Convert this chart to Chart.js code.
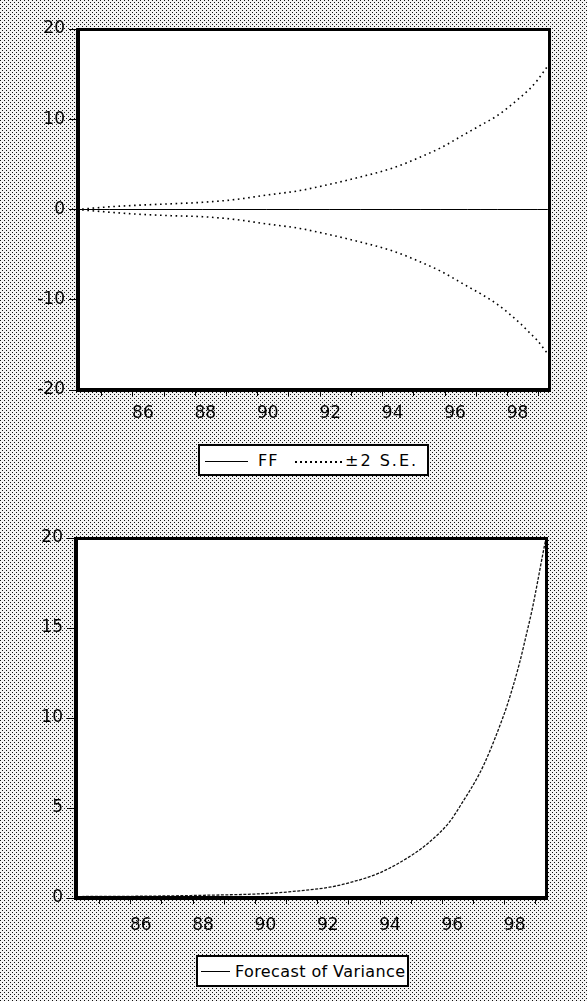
<!DOCTYPE html>
<html><head><meta charset="utf-8">
<script src="https://cdn.jsdelivr.net/npm/chart.js@4/dist/chart.umd.min.js"></script>
<style>
html,body{margin:0;padding:0;}
body{width:587px;height:1001px;position:relative;overflow:hidden;background-color:#d6d6d6;}
#c1{position:absolute;left:0;top:0;}
#c2{position:absolute;left:0;top:490px;}
.legend{position:absolute;background:#fff;border:2px solid #000;box-sizing:border-box;}
.legend span{position:absolute;font-family:"DejaVu Sans",sans-serif;font-size:16px;line-height:16px;letter-spacing:1px;color:#000;white-space:nowrap;}
.legend i{position:absolute;display:block;}
</style></head><body>
<canvas id="c1" width="587" height="490"></canvas>
<canvas id="c2" width="587" height="511"></canvas>
<div class="legend" style="left:198px;top:444px;width:231px;height:32px;">
  <i style="left:5px;top:15px;width:43px;height:1px;background:#000;"></i>
  <span style="left:58px;top:7px;">FF</span>
  <i style="left:95px;top:15px;width:50px;height:1.5px;background:repeating-linear-gradient(to right,#000 0,#000 2px,transparent 2px,transparent 5px);"></i>
  <span style="left:145px;top:7px;letter-spacing:2px;">±2 S.E.</span>
</div>
<div class="legend" style="left:196px;top:955px;width:213px;height:32px;">
  <i style="left:3px;top:14px;width:29px;height:1px;background:#000;"></i>
  <span style="left:37px;top:7px;letter-spacing:0.4px;">Forecast of Variance</span>
</div>
<script>
// ---- data ----
const tickYears = [85,86,87,88,89,90,91,92,93,94,95,96,97,98,99];
const labelYears = [86,88,90,92,94,96,98];
const yTicksTop = [-20,-10,0,10,20];
const yTicksBottom = [0,5,10,15,20];

const seTimes  = [84.21,85.26,86.32,87.35,88.24,89.27,90.29,91.35,92.31,93.28,94.33,95.20,95.84,96.71,97.12,97.67,98.40,98.72,98.95,99.27,99.37];
const ffValues = [0,0,0,0,0,0,0,0,0,0,0,0,0,0,0,0,0,0,0,0,0];
const seUpper  = [0.0,0.3,0.5,0.65,0.8,1.1,1.6,2.1,2.8,3.6,4.6,5.8,6.8,8.5,9.3,10.4,12.4,13.4,14.3,15.8,16.2];
const seLower  = [0.0,-0.3,-0.55,-0.7,-0.8,-1.1,-1.6,-2.1,-2.8,-3.6,-4.6,-5.8,-6.8,-8.5,-9.3,-10.5,-12.6,-13.7,-14.5,-15.9,-16.3];

const varTimes  = [84.27,86.38,88.31,90.36,91.42,92.38,93.02,93.98,95.04,95.58,96.22,96.64,97.19,97.51,97.83,98.08,98.47,98.72,98.88,99.04,99.17,99.27,99.33];
const varValues = [0.08,0.1,0.15,0.25,0.4,0.6,0.85,1.39,2.4,3.1,4.2,5.3,6.9,8.1,9.5,10.7,13.0,14.8,16.0,17.4,18.6,19.5,20.0];

// ---- background dither ----
(function(){
  const pc=document.createElement('canvas'); pc.width=4; pc.height=4;
  const p=pc.getContext('2d'); p.fillStyle='#f3f3f3'; p.fillRect(0,0,4,4);
  p.fillStyle='#111'; p.fillRect(0,0,1,1); p.fillRect(2,2,1,1);
  document.body.style.backgroundImage='url('+pc.toDataURL()+')';
})();

const framePlugin = {
  id:'frame',
  beforeDraw(chart){
    const {ctx, chartArea:a} = chart;
    ctx.save(); ctx.fillStyle='#fff';
    ctx.fillRect(a.left,a.top,a.right-a.left,a.bottom-a.top);
    ctx.restore();
  },
  afterDraw(chart){
    const {ctx, chartArea:a} = chart;
    const w=a.right-a.left, h=a.bottom-a.top;
    ctx.save(); ctx.fillStyle='#000';
    ctx.fillRect(a.left-1, a.top-1, w+2, 3);
    ctx.fillRect(a.left-1, a.bottom-2, w+2, 4);
    ctx.fillRect(a.left-1, a.top-1, 4, h+3);
    ctx.fillRect(a.right-2, a.top-1, 3, h+3);
    ctx.restore();
  }
};

const FONT = {family:'"DejaVu Sans", sans-serif', size:17};

function makeChart(id, datasets, yTicks, yMin, yMax, yWidth, pad, xPad){
  return new Chart(document.getElementById(id), {
    type:'line',
    data:{datasets},
    plugins:[framePlugin],
    options:{
      responsive:false, animation:false, devicePixelRatio:1,
      layout:{padding:pad},
      plugins:{legend:{display:false}, tooltip:{enabled:false}},
      elements:{point:{radius:0}},
      scales:{
        x:{
          type:'linear', min:84.21, max:99.36,
          afterBuildTicks(s){ s.ticks = tickYears.map(v=>({value:v})); },
          afterFit(s){ s.height = 40; },
          border:{display:false},
          grid:{drawOnChartArea:false, drawTicks:true, tickLength:6, tickColor:'#000', tickWidth:1},
          ticks:{autoSkip:false, maxRotation:0, padding:xPad, labelOffset:10, color:'#000', font:FONT,
                 callback:(v)=> labelYears.includes(v) ? String(v) : ''}
        },
        y:{
          type:'linear', min:yMin, max:yMax,
          afterBuildTicks(s){ s.ticks = yTicks.map(v=>({value:v})); },
          afterFit(s){ s.width = yWidth; },
          border:{display:false},
          grid:{drawOnChartArea:false, drawTicks:true, tickLength:8, tickColor:'#000', tickWidth:1},
          ticks:{padding:4, color:'#000', font:FONT, callback:(v)=>String(v)}
        }
      }
    }
  });
}

const pts = (xs, ys) => xs.map((x,i)=>({x, y:ys[i]}));

makeChart('c1', [
  {label:'FF', data:pts(seTimes, ffValues), borderColor:'#000', borderWidth:1, tension:0},
  {label:'+2 S.E.', data:pts(seTimes, seUpper), borderColor:'#000', borderWidth:1.6, borderDash:[1.6,3.6], cubicInterpolationMode:'monotone'},
  {label:'-2 S.E.', data:pts(seTimes, seLower), borderColor:'#000', borderWidth:1.6, borderDash:[1.6,3.6], cubicInterpolationMode:'monotone'}
], yTicksTop, -20, 20, 77, {top:29, right:37, left:0, bottom:60}, 7);

makeChart('c2', [
  {label:'Forecast of Variance', data:pts(varTimes, varValues), borderColor:'#111', borderWidth:1.3, borderDash:[3,1.5], cubicInterpolationMode:'monotone'}
], yTicksBottom, 0, 20, 75, {top:48, right:40, left:0, bottom:63}, 11);
</script>
</body></html>
